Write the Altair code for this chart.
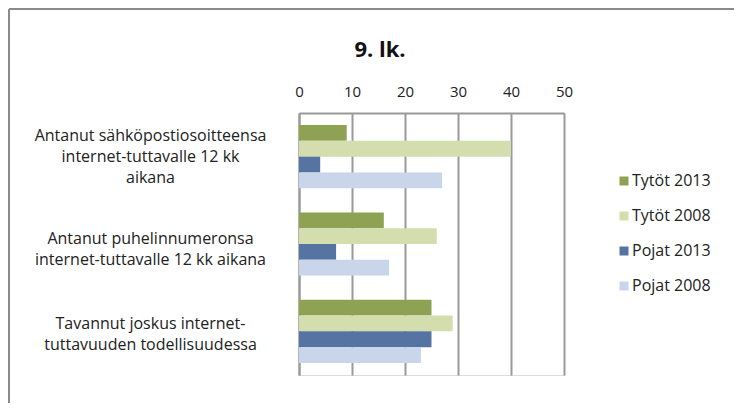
import altair as alt
import pandas as pd

categories = [
    "Antanut sähköpostiosoitteensa|internet-tuttavalle 12 kk|aikana",
    "Antanut puhelinnumeronsa|internet-tuttavalle 12 kk aikana",
    "Tavannut joskus internet-|tuttavuuden todellisuudessa",
]
series = ["Tytöt 2013", "Tytöt 2008", "Pojat 2013", "Pojat 2008"]
tytot_2013 = [9, 16, 25]
tytot_2008 = [40, 26, 29]
pojat_2013 = [4, 7, 25]
pojat_2008 = [27, 17, 23]
colors = ["#8FA153", "#D3DDAE", "#5674A2", "#C9D5EA"]
x_ticks = [0, 10, 20, 30, 40, 50]
title_text = "9. lk."

rows = []
for s, vals in zip(series, [tytot_2013, tytot_2008, pojat_2013, pojat_2008]):
    for c, v in zip(categories, vals):
        rows.append({"kysymys": c, "sarja": s, "arvo": v})
df = pd.DataFrame(rows)

FONT = "Open Sans"
W, H = 265, 262
PAD_L, PAD_T = 291, 105

label_offset = {
    "condition": [
        {"test": f"datum.value == '{categories[0]}'", "value": -21},
        {"test": f"datum.value == '{categories[1]}'", "value": -5},
    ],
    "value": -7,
}

bars = alt.Chart(df).mark_bar().encode(
    x=alt.X("arvo:Q",
            scale=alt.Scale(domain=[0, 50], nice=False),
            axis=alt.Axis(orient="top", values=x_ticks, title=None, ticks=False,
                          labelPadding=14, labelFontSize=15, labelFont=FONT,
                          labelColor="#222222", domainColor="#999999", domainWidth=2,
                          gridColor="#999999", gridWidth=2, labelFlush=False)),
    y=alt.Y("kysymys:N", sort=categories,
            scale=alt.Scale(paddingInner=0.276, paddingOuter=0.138),
            axis=alt.Axis(title=None, ticks=False, labelAlign="center",
                          labelBaseline="middle", labelPadding=149,
                          labelExpr="split(datum.label, '|')",
                          labelOffset=label_offset,
                          labelFontSize=16, labelFont=FONT, labelColor="#222222",
                          labelLineHeight=21, labelLimit=400,
                          domainColor="#999999", domainWidth=2, grid=False)),
    yOffset=alt.YOffset("sarja:N", sort=series,
                        scale=alt.Scale(paddingInner=0, paddingOuter=0)),
    color=alt.Color("sarja:N", sort=series,
                    scale=alt.Scale(domain=series, range=colors),
                    legend=alt.Legend(title=None, orient="none", legendX=317, legendY=60,
                                      symbolType="square", symbolSize=81,
                                      symbolStrokeWidth=0, labelFontSize=16,
                                      labelFont=FONT, labelColor="#222222",
                                      rowPadding=19, labelOffset=0)),
)

frame = pd.DataFrame({"t": [title_text]})
title = alt.Chart(frame).mark_text(font=FONT, fontSize=22, fontWeight="bold",
                                   color="#111111", align="center",
                                   baseline="middle").encode(
    text="t:N", x=alt.value(81), y=alt.value(-63))
top_border = alt.Chart(frame).mark_rule(color="#8a8a8a", strokeWidth=2).encode(
    x=alt.value(-PAD_L + 1), x2=alt.value(W + 300), y=alt.value(-PAD_T + 1))
left_border = alt.Chart(frame).mark_rule(color="#8a8a8a", strokeWidth=2).encode(
    x=alt.value(-PAD_L + 1), y=alt.value(-PAD_T + 1), y2=alt.value(H + 100))

chart = alt.layer(bars, title, top_border, left_border).properties(
    width=W, height=H,
    autosize="none",
    padding={"left": PAD_L, "top": PAD_T, "right": 170, "bottom": 28},
).configure_view(stroke=None).configure(background="white")

chart.save("out.html", embed_options={"renderer": "svg", "actions": False})
